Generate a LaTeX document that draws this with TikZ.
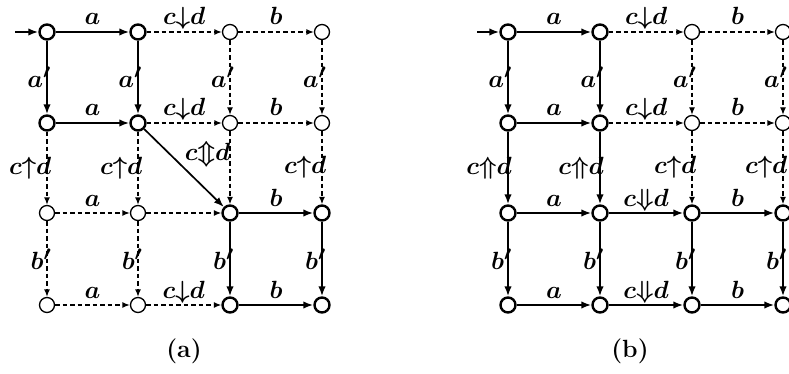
\documentclass[tikz,border=0pt]{standalone}
\usetikzlibrary{arrows.meta}
\begin{document}
\begin{tikzpicture}[x=1pt,y=-1pt,
  every node/.style={font=\Huge\boldmath},
  nd/.style={circle, draw, fill=white, minimum size=15pt, inner sep=0pt, line width=1.3pt},
  bnd/.style={nd, line width=2.4pt},
  th/.style={line width=2.4pt, -{Latex[length=10pt,width=7.5pt]}},
  md/.style={line width=1.7pt, -{Latex[length=10pt,width=7.5pt]}},
  ds/.style={line width=1.3pt, dash pattern=on 4.5pt off 3pt, -{Latex[length=7.5pt,width=6pt]}},
  hl/.style={midway, anchor=base, yshift=7pt, inner sep=0pt},
  vl/.style={midway, anchor=east, xshift=5pt, inner sep=0pt},
  captxt/.style={font=\Huge\bfseries}]
\useasboundingbox (0,0) rectangle (789,374);
% ---------- left grid ----------
\node[bnd] (L00) at (47,32) {};
\node[bnd] (L01) at (138,32) {};
\node[nd]  (L02) at (230,32) {};
\node[nd]  (L03) at (322,32) {};
\node[bnd] (L10) at (47,123) {};
\node[bnd] (L11) at (138,123) {};
\node[nd]  (L12) at (230,123) {};
\node[nd]  (L13) at (322,123) {};
\node[nd]  (L20) at (47,213) {};
\node[nd]  (L21) at (138,213) {};
\node[bnd] (L22) at (230,213) {};
\node[bnd] (L23) at (322,213) {};
\node[nd]  (L30) at (47,305) {};
\node[nd]  (L31) at (138,305) {};
\node[bnd] (L32) at (230,305) {};
\node[bnd] (L33) at (322,305) {};
\coordinate (Ls) at (15,32);
\draw[th] (Ls) -- (L00);
\draw[th] (L00) -- node[hl]{$a$} (L01);
\draw[ds] (L01) -- node[hl]{$c{\downarrow}d$} (L02);
\draw[ds] (L02) -- node[hl]{$b$} (L03);
\draw[th] (L00) -- node[vl]{$a'$} (L10);
\draw[th] (L01) -- node[vl]{$a'$} (L11);
\draw[ds] (L02) -- node[vl]{$a'$} (L12);
\draw[ds] (L03) -- node[vl]{$a'$} (L13);
\draw[th] (L10) -- node[hl]{$a$} (L11);
\draw[ds] (L11) -- node[hl]{$c{\downarrow}d$} (L12);
\draw[ds] (L12) -- node[hl]{$b$} (L13);
\draw[ds] (L10) -- node[vl]{$c{\uparrow}d$} (L20);
\draw[ds] (L11) -- node[vl]{$c{\uparrow}d$} (L21);
\draw[ds] (L12) -- (L22);
\draw[ds] (L13) -- node[vl]{$c{\uparrow}d$} (L23);
\draw[md] (L11) -- node[midway, anchor=south west, inner sep=0pt]{$c{\Updownarrow}d$} (L22);
\draw[ds] (L20) -- node[hl]{$a$} (L21);
\draw[ds] (L21) -- (L22);
\draw[th] (L22) -- node[hl]{$b$} (L23);
\draw[ds] (L20) -- node[vl]{$b'$} (L30);
\draw[ds] (L21) -- node[vl]{$b'$} (L31);
\draw[th] (L22) -- node[vl]{$b'$} (L32);
\draw[th] (L23) -- node[vl]{$b'$} (L33);
\draw[ds] (L30) -- node[hl]{$a$} (L31);
\draw[ds] (L31) -- node[hl]{$c{\downarrow}d$} (L32);
\draw[th] (L32) -- node[hl]{$b$} (L33);
\node[captxt] (capa) at (184,351) {(a)};
% ---------- right grid ----------
\node[bnd] (R00) at (508,32) {};
\node[bnd] (R01) at (600,32) {};
\node[nd]  (R02) at (692,32) {};
\node[nd]  (R03) at (783,32) {};
\node[bnd] (R10) at (508,123) {};
\node[bnd] (R11) at (600,123) {};
\node[nd]  (R12) at (692,123) {};
\node[nd]  (R13) at (783,123) {};
\node[bnd] (R20) at (508,213) {};
\node[bnd] (R21) at (600,213) {};
\node[bnd] (R22) at (692,213) {};
\node[bnd] (R23) at (783,213) {};
\node[bnd] (R30) at (508,305) {};
\node[bnd] (R31) at (600,305) {};
\node[bnd] (R32) at (692,305) {};
\node[bnd] (R33) at (783,305) {};
\coordinate (Rs) at (477,32);
\draw[th] (Rs) -- (R00);
\draw[th] (R00) -- node[hl]{$a$} (R01);
\draw[ds] (R01) -- node[hl]{$c{\downarrow}d$} (R02);
\draw[ds] (R02) -- node[hl]{$b$} (R03);
\draw[th] (R00) -- node[vl]{$a'$} (R10);
\draw[th] (R01) -- node[vl]{$a'$} (R11);
\draw[ds] (R02) -- node[vl]{$a'$} (R12);
\draw[ds] (R03) -- node[vl]{$a'$} (R13);
\draw[th] (R10) -- node[hl]{$a$} (R11);
\draw[ds] (R11) -- node[hl]{$c{\downarrow}d$} (R12);
\draw[ds] (R12) -- node[hl]{$b$} (R13);
\draw[th] (R10) -- node[vl]{$c{\Uparrow}d$} (R20);
\draw[th] (R11) -- node[vl]{$c{\Uparrow}d$} (R21);
\draw[ds] (R12) -- node[vl]{$c{\uparrow}d$} (R22);
\draw[ds] (R13) -- node[vl]{$c{\uparrow}d$} (R23);
\draw[th] (R20) -- node[hl]{$a$} (R21);
\draw[th] (R21) -- node[hl]{$c{\Downarrow}d$} (R22);
\draw[th] (R22) -- node[hl]{$b$} (R23);
\draw[th] (R20) -- node[vl]{$b'$} (R30);
\draw[th] (R21) -- node[vl]{$b'$} (R31);
\draw[th] (R22) -- node[vl]{$b'$} (R32);
\draw[th] (R23) -- node[vl]{$b'$} (R33);
\draw[th] (R30) -- node[hl]{$a$} (R31);
\draw[th] (R31) -- node[hl]{$c{\Downarrow}d$} (R32);
\draw[th] (R32) -- node[hl]{$b$} (R33);
\node[captxt] (capb) at (630,351) {(b)};
\end{tikzpicture}
\end{document}
